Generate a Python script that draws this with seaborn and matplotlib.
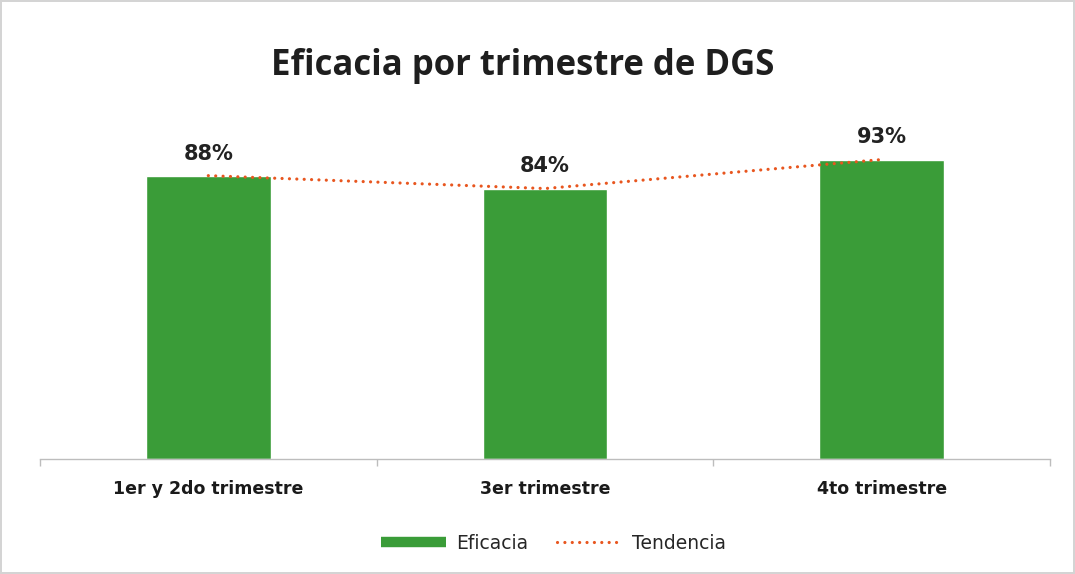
import numpy as np
import matplotlib
matplotlib.use('Agg')
import matplotlib.pyplot as plt
import seaborn as sns
from matplotlib.lines import Line2D

sns.set_style('white')
plt.rcParams['font.family'] = ['DejaVu Sans']

categorias = ['1er y 2do trimestre', '3er trimestre', '4to trimestre']
eficacia = [88, 84, 93]
etiquetas = ['88%', '84%', '93%']

verde = '#3a9c38'
naranja = '#e8561f'

fig = plt.figure(figsize=(10.75, 5.74), dpi=100)
fig.patch.set_edgecolor('#d4d4d4')
fig.patch.set_linewidth(1.5)
ax = fig.add_axes([0.0372, 0.2003, 0.9395, 0.561])

sns.barplot(x=categorias, y=eficacia, color=verde, width=0.37, saturation=1, ax=ax)
sns.lineplot(x=[0, 1, 2], y=eficacia, color=naranja, lw=2.3, sort=False, ax=ax,
             dashes=False, solid_capstyle='round')
ln = ax.lines[-1]
ln.set_linestyle((0, (0.01, 2.3)))
ln.set_dash_capstyle('round')

for i, (v, t) in enumerate(zip(eficacia, etiquetas)):
    ax.text(i, v + 5, t, ha='center', va='baseline', fontsize=15, fontweight='bold', color='#222222')

ax.set_xlim(-0.5, 2.5)
ax.set_ylim(0, 100)
ax.set_yticks([])
for s in ['top', 'right', 'left']:
    ax.spines[s].set_visible(False)
ax.spines['bottom'].set_color('#bdbdbd')
ax.spines['bottom'].set_linewidth(1)
ax.set_xticks([0, 1, 2])
ax.set_xticklabels(categorias, fontsize=12.5, fontweight='bold', color='#1a1a1a')
ax.set_xticks([-0.5, 0.5, 1.5, 2.5], minor=True)
ax.tick_params(axis='x', which='major', length=0, pad=15)
ax.tick_params(axis='x', which='minor', bottom=True, length=5, color='#bdbdbd', width=1)

fig.text(0.4865, 0.869, 'Eficacia por trimestre de DGS', ha='center', va='baseline',
         fontsize=25, fontweight='bold', color='#1e1e1e', family=['Open Sans', 'DejaVu Sans'])

handles = [Line2D([], [], color=verde, lw=7.5, solid_capstyle='butt'),
           Line2D([], [], color=naranja, lw=2.3, linestyle=(0, (0.01, 2.3)), dash_capstyle='round')]
fig.legend(handles, ['Eficacia', 'Tendencia'], loc='center', bbox_to_anchor=(0.515, 0.054),
           ncol=2, frameon=False, fontsize=13.5, handlelength=3.47, columnspacing=1.55,
           handletextpad=0.53)

fig.savefig('out.png', dpi=100)
